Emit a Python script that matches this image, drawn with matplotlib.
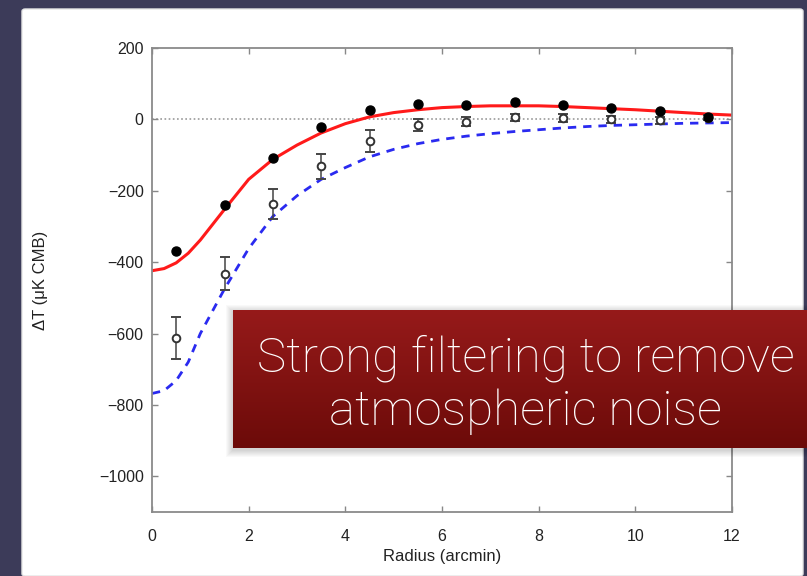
import matplotlib.pyplot as plt
import numpy as np
from matplotlib.patches import FancyBboxPatch, Rectangle

# binned profile, filled points
r_bins = [0.5, 1.5, 2.5, 3.5, 4.5, 5.5, 6.5, 7.5, 8.5, 9.5, 10.5, 11.5]
dT_filled = [-368, -240, -108, -22, 25, 42, 40, 48, 40, 32, 24, 8]
# open points with error bars
dT_open = [-612, -432, -236, -132, -60, -16, -6, 6, 4, 0, -3, 5]
err_open = [58, 46, 42, 34, 30, 16, 12, 10, 10, 10, 10, 8]

# model curves
r_model = [0, 0.25, 0.5, 0.75, 1, 1.5, 2, 2.5, 3, 3.5, 4, 4.5, 5, 5.5, 6, 6.5,
           7, 7.5, 8, 8.5, 9, 9.5, 10, 10.5, 11, 11.5, 12]
red_model = [-424, -418, -402, -375, -338, -252, -168, -112, -72, -38, -12, 7,
             19, 27, 33, 36, 38, 38, 38, 36, 33, 30, 27, 23, 19, 15, 12]
blue_model = [-768, -760, -732, -680, -600, -475, -362, -272, -214, -168, -135,
              -105, -84, -68, -56, -47, -40, -34, -29, -24, -20, -17, -15, -13,
              -11, -10, -9]

W, H = 807, 576
fig = plt.figure(figsize=(W / 100, H / 100), dpi=100)
fig.patch.set_facecolor('#3c3b59')
plt.rcParams['font.family'] = ['Liberation Sans', 'DejaVu Sans']

# white panel
panel = FancyBboxPatch((22 / W, 0), (803 - 22) / W, (576 - 9) / H,
                       boxstyle='round,pad=0,rounding_size=0.004',
                       transform=fig.transFigure, facecolor='white',
                       edgecolor='#e6e6e6', lw=1, zorder=-10)
fig.patches.append(panel)

ax = fig.add_axes([152 / W, (576 - 512) / H, (732 - 152) / W, (512 - 48) / H])
ax.set_zorder(0)
ax.set_facecolor('white')

ax.axhline(0, color='#999999', lw=1.2, ls=(0, (1, 1.5)), zorder=1)
ax.plot(r_model, red_model, color='#ff1a1a', lw=2.2, zorder=2)
ax.plot(r_model, blue_model, color='#2a2af0', lw=2, ls=(0, (3, 2.5)), zorder=2)

ax.errorbar(r_bins, dT_open, yerr=err_open, fmt='o', mfc='white', mec='#333333',
            ecolor='#444444', ms=5.5, mew=1.4, elinewidth=1.1, capsize=3.5, zorder=3)
ax.plot(r_bins, dT_filled, 'o', color='black', ms=6.5, zorder=4)

ax.set_xlim(0, 12)
ax.set_ylim(-1100, 200)
ax.set_xticks(range(0, 13, 2))
ax.set_yticks(range(-1000, 201, 200))
ax.set_yticklabels(['\u22121000', '\u2212800', '\u2212600', '\u2212400', '\u2212200', '0', '200'])
ax.tick_params(direction='in', top=True, right=True, length=4, width=1,
               color='#888888', labelsize=11.5, labelcolor='#222222')
ax.tick_params(axis='x', pad=12)
ax.tick_params(axis='y', pad=6)
for s in ax.spines.values():
    s.set_color('#8a8a8a')
    s.set_linewidth(1.3)
ax.set_xlabel('Radius (arcmin)', fontsize=12, color='#222222')
ax.set_ylabel('\u0394T (\u03bcK CMB)', fontsize=12, color='#222222')
ax.xaxis.set_label_coords(0.5, -0.08)
ax.yaxis.set_label_coords(-0.18, 0.5)

# callout box with soft shadow
bx, by, bw, bh = 233, 448, 807 - 233, 448 - 310
for k in range(7, 0, -1):
    sh = Rectangle(((bx - k) / W, (576 - by - k - 2) / H), (bw + 2 * k) / W,
                   (bh + 2 * k) / H, transform=fig.transFigure,
                   facecolor='black', alpha=0.025, lw=0, zorder=0.5)
    fig.patches.append(sh)

box_ax = fig.add_axes([bx / W, (576 - by) / H, bw / W, bh / H])
box_ax.set_zorder(2)
grad = np.linspace(0, 1, 100).reshape(-1, 1)
top_c = np.array([0x96, 0x1a, 0x1a]) / 255
bot_c = np.array([0x6c, 0x0b, 0x09]) / 255
img = top_c[None, None, :] * (1 - grad[:, :, None]) + bot_c[None, None, :] * grad[:, :, None]
box_ax.imshow(img, aspect='auto', extent=[0, 1, 0, 1], origin='upper')
box_ax.set_xlim(0, 1)
box_ax.set_ylim(0, 1)
box_ax.set_axis_off()
box_ax.text(0.51, 0.65, 'Strong filtering to remove', color='white',
            fontsize=35.5, family='Roboto', weight='light', ha='center', va='center')
box_ax.text(0.51, 0.265, 'atmospheric noise', color='white',
            fontsize=35.5, family='Roboto', weight='light', ha='center', va='center')

fig.savefig('out.png', dpi=100, facecolor=fig.get_facecolor())
